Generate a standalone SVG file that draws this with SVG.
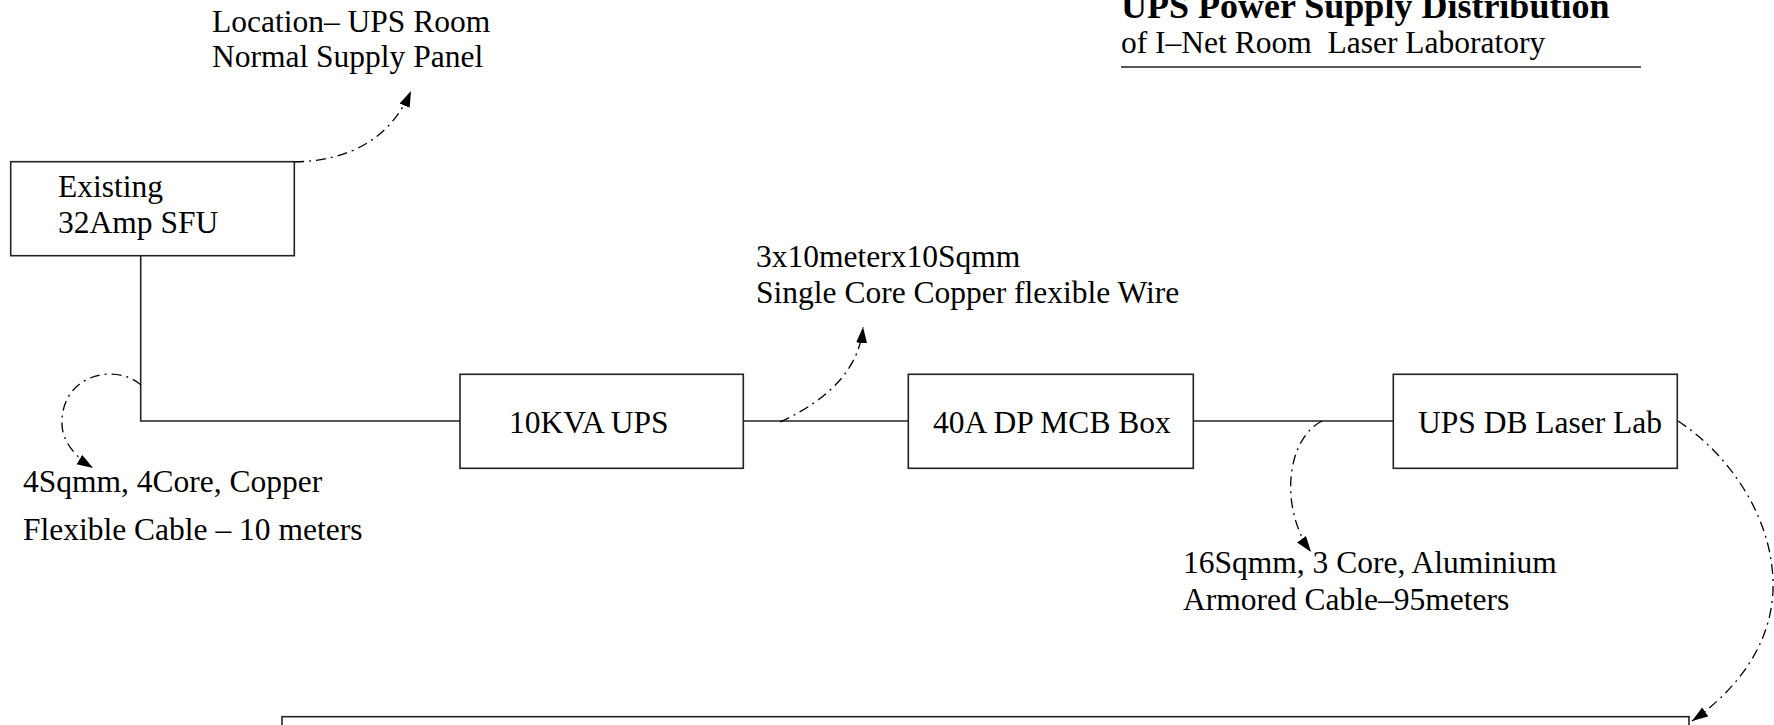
<svg xmlns="http://www.w3.org/2000/svg" width="1774" height="725" viewBox="0 0 1774 725">
<style>
text{font-family:"Liberation Serif","Times New Roman",serif;font-size:31.5px;fill:#000}
.title{font-weight:bold;font-size:36px}
.box{fill:#fff;stroke:#222;stroke-width:1.6}
.wire{fill:none;stroke:#222;stroke-width:1.6}
.lead{fill:none;stroke:#000;stroke-width:1.3;stroke-dasharray:10 5 2 5}
</style>
<defs>
<marker id="ah" markerUnits="userSpaceOnUse" markerWidth="18" markerHeight="12" refX="16" refY="5.5" orient="auto">
<path d="M0,0 L16,5.5 L0,11 z" fill="#000"/>
</marker>
</defs>
<rect width="1774" height="725" fill="#fff"/>
<g id="title">
<text class="title" x="1121" y="18">UPS Power Supply Distribution</text>
<text x="1121" y="53" xml:space="preserve">of I–Net Room  Laser Laboratory</text>
<line x1="1121" y1="67" x2="1641" y2="67" stroke="#222" stroke-width="1.6"/>
</g>
<g id="connectors">
<polyline class="wire" points="140.7,256 140.7,421 460,421"/>
<line class="wire" x1="743" y1="421" x2="909" y2="421"/>
<line class="wire" x1="1193" y1="421" x2="1393" y2="421"/>
<path class="lead" d="M294,162 Q381,160 411,91" marker-end="url(#ah)"/>
<path class="lead" d="M141,385 C115,362 60,375 62,425 C63,445 80,460 93,468" marker-end="url(#ah)"/>
<path class="lead" d="M780,422 Q858,386 863,327" marker-end="url(#ah)"/>
<path class="lead" d="M1322,421 C1285,440 1280,510 1311,552" marker-end="url(#ah)"/>
<path class="lead" d="M1678,421 C1730,455 1775,520 1773,590 C1771,650 1730,695 1692,721" marker-end="url(#ah)"/>
</g>
<g id="label-location">
<text x="212" y="32">Location– UPS Room</text>
<text x="212" y="67">Normal Supply Panel</text>
</g>
<g id="node-sfu">
<rect class="box" x="10.7" y="161.7" width="283.6" height="94"/>
<text x="58" y="197">Existing</text>
<text x="58" y="233">32Amp SFU</text>
</g>
<g id="label-4sqmm">
<text x="23" y="492">4Sqmm, 4Core, Copper</text>
<text x="23" y="540">Flexible Cable – 10 meters</text>
</g>
<g id="node-ups">
<rect class="box" x="460" y="374.3" width="283.3" height="94"/>
<text x="509" y="433">10KVA UPS</text>
</g>
<g id="label-3x10">
<text x="756" y="267">3x10meterx10Sqmm</text>
<text x="756" y="303">Single Core Copper flexible Wire</text>
</g>
<g id="node-mcb">
<rect class="box" x="908.3" y="374.3" width="285" height="94"/>
<text x="933" y="433">40A DP MCB Box</text>
</g>
<g id="node-db">
<rect class="box" x="1393.3" y="374.3" width="284" height="94"/>
<text x="1418" y="433">UPS DB Laser Lab</text>
</g>
<g id="label-16sqmm">
<text x="1183" y="573">16Sqmm, 3 Core, Aluminium</text>
<text x="1183" y="610">Armored Cable–95meters</text>
</g>
<g id="node-bottom">
<rect class="box" x="282" y="716.7" width="1407" height="40"/>
</g>
</svg>
